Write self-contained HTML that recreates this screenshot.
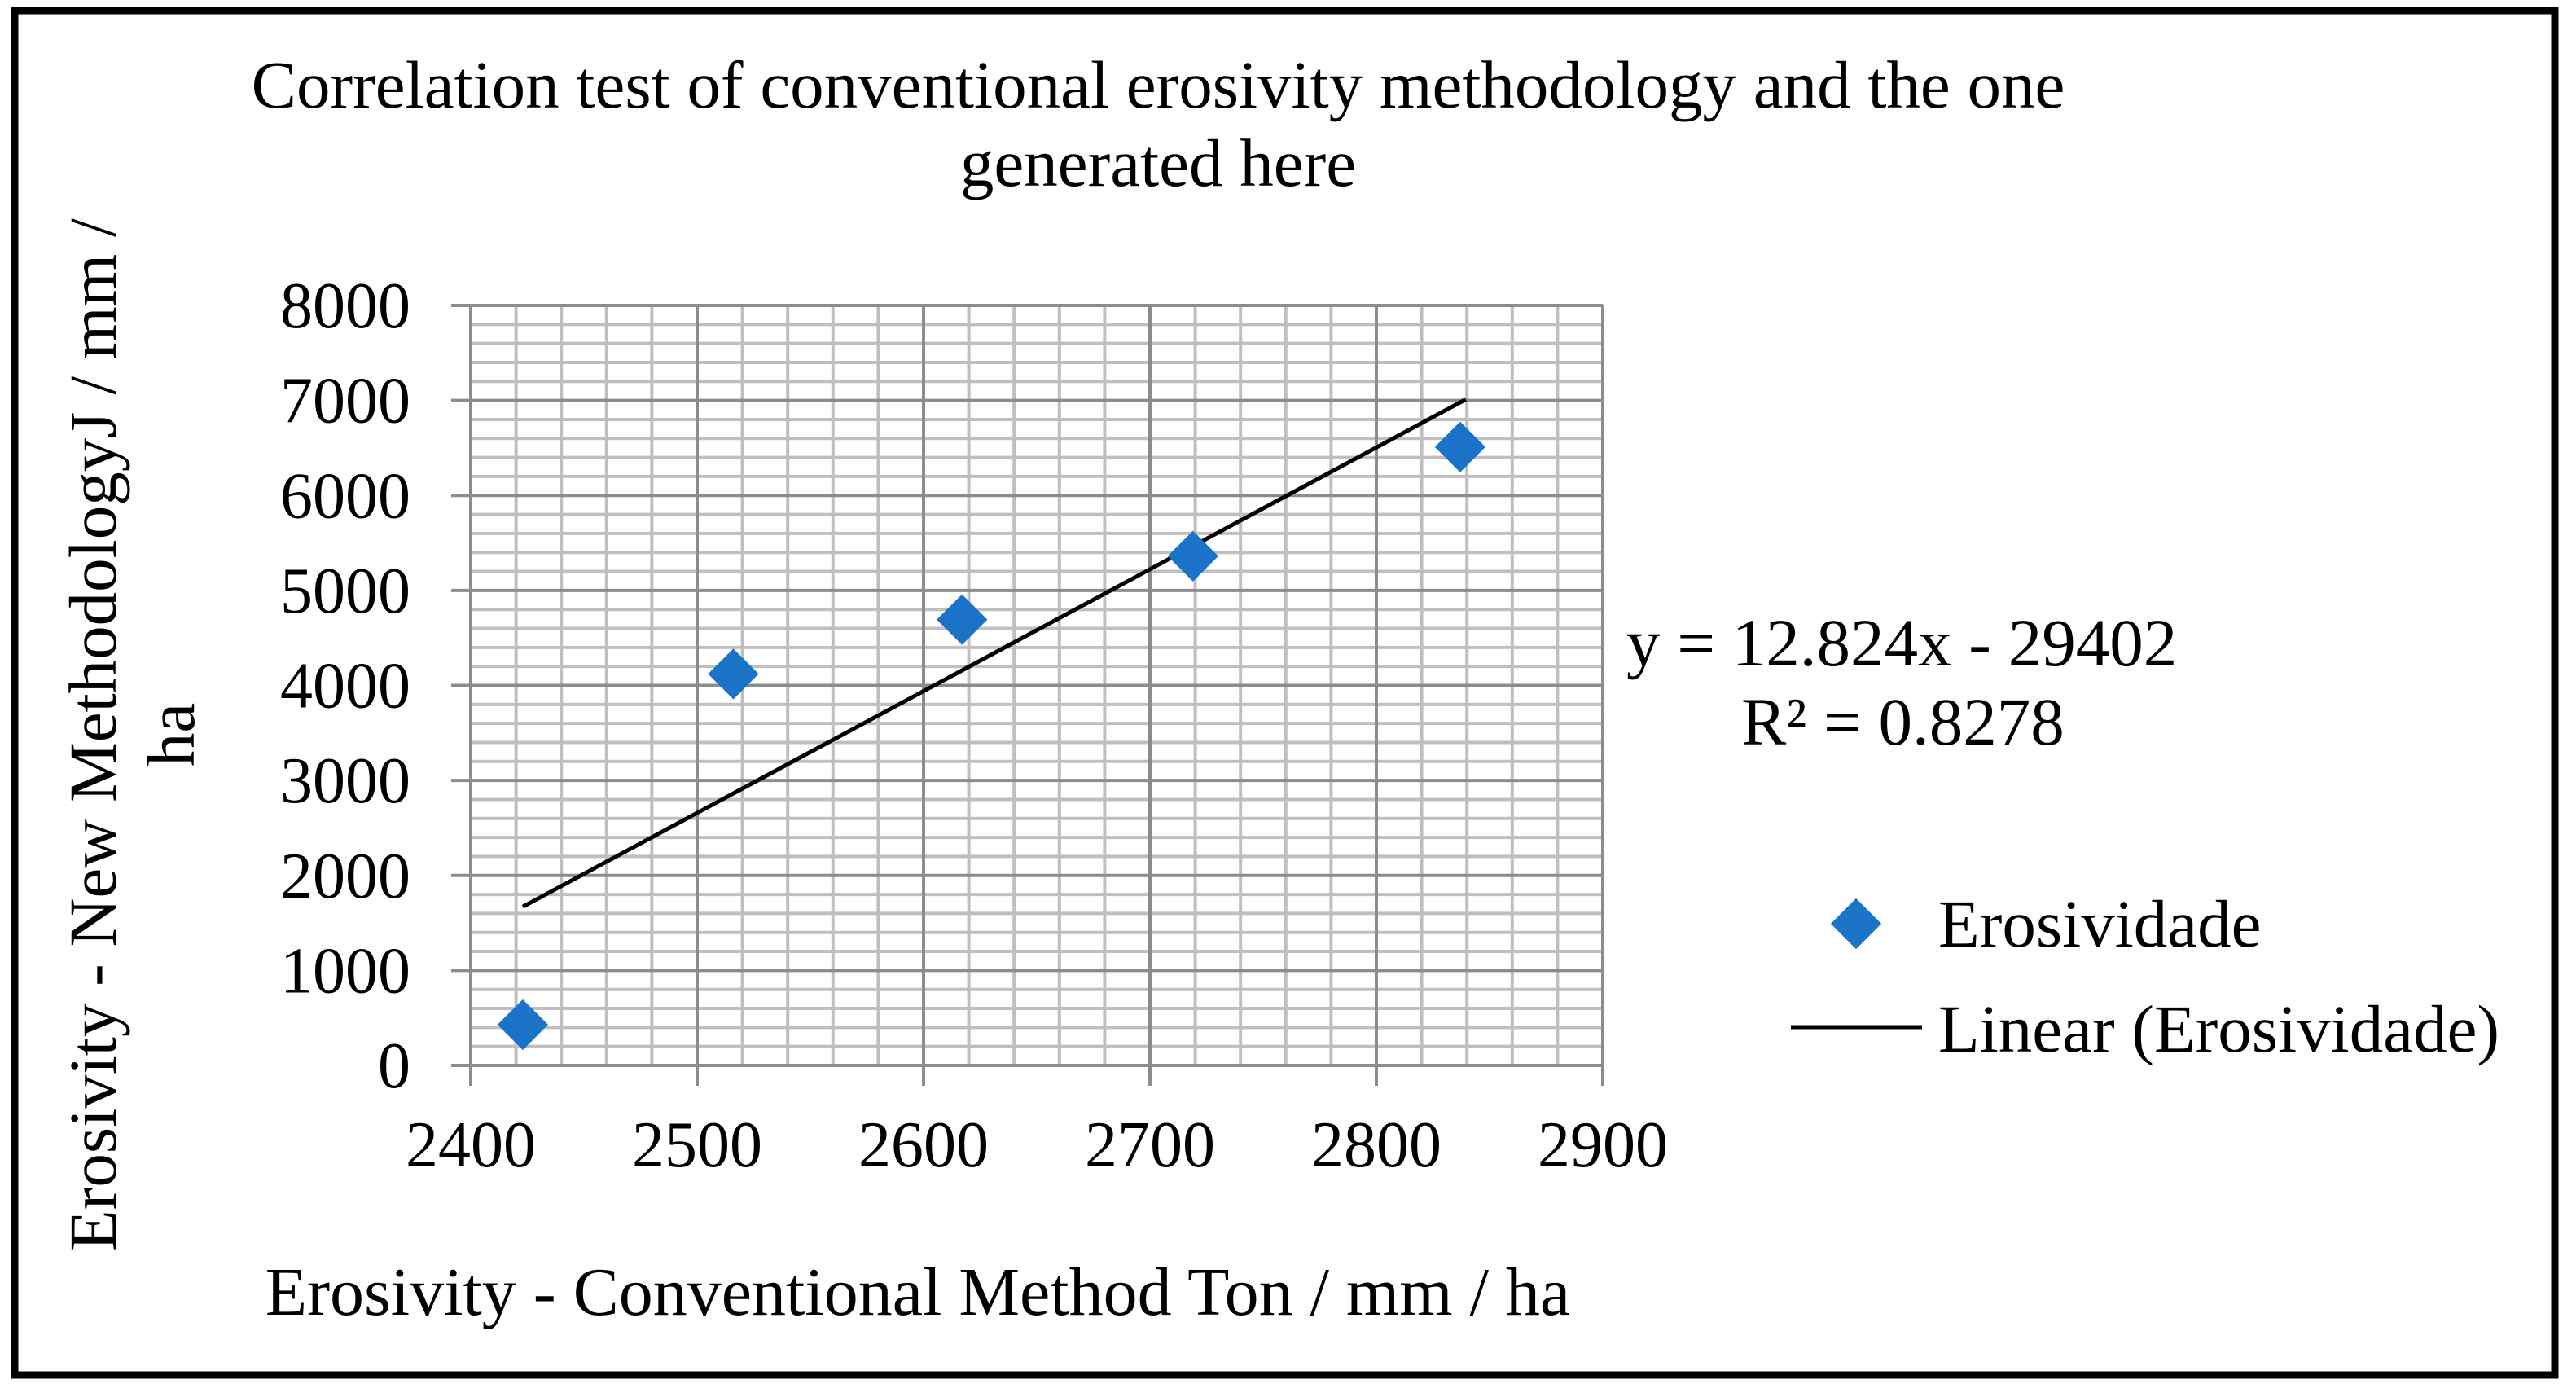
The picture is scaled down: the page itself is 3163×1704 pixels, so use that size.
<!DOCTYPE html>
<html><head><meta charset="utf-8"><style>
html,body{margin:0;padding:0;background:#fff}
svg{display:block}
text{font-family:"Liberation Serif",serif;fill:#000}
</style></head><body>
<svg id="chart" width="3163" height="1704" viewBox="0 0 3163 1704">
<rect x="18" y="13" width="3119" height="1675" fill="#fff" stroke="#000" stroke-width="9"/>
<g id="grid"></g>
<g id="ticks"></g>
<g id="marks"></g>
<text x="1422" y="132" font-size="83" text-anchor="middle">Correlation test of conventional erosivity methodology and the one</text>
<text x="1422" y="228" font-size="83" text-anchor="middle">generated here</text>
<text x="1127" y="1614" font-size="84" text-anchor="middle">Erosivity - Conventional Method Ton / mm / ha</text>
<g transform="translate(0,902) rotate(-90)">
<text x="0" y="142" font-size="83" text-anchor="middle">Erosivity - New MethodologyJ / mm /</text>
<text x="0" y="238" font-size="83" text-anchor="middle">ha</text>
</g>
<text x="1997" y="817" font-size="83">y = 12.824x - 29402</text>
<text x="2138" y="914" font-size="83">R² = 0.8278</text>
<g>
<rect x="2257" y="1112" width="44" height="44" fill="#1a73c6" transform="rotate(45 2279 1134)"/>
<text x="2380" y="1162" font-size="83">Erosividade</text>
<line x1="2199" y1="1261" x2="2360" y2="1261" stroke="#000" stroke-width="5"/>
<text x="2380" y="1291" font-size="83">Linear (Erosividade)</text>
</g>
</svg>
<script>
const xTicks=[2400,2500,2600,2700,2800,2900];
const yTicks=[0,1000,2000,3000,4000,5000,6000,7000,8000];
const xValues=[2423,2516,2617,2719,2837];
const yValues=[429,4121,4693,5361,6510];
const slope=12.824, intercept=-29402;
const X0=578,X1=1968,Y0=1308,Y1=375;
const xMin=2400,xMax=2900,yMin=0,yMax=8000;
function sx(v){return X0+(v-xMin)/(xMax-xMin)*(X1-X0);}
function sy(v){return Y0-(v-yMin)/(yMax-yMin)*(Y0-Y1);}
const NS='http://www.w3.org/2000/svg';
function mk(tag,attrs,parent){const e=document.createElementNS(NS,tag);for(const k in attrs)e.setAttribute(k,attrs[k]);parent.appendChild(e);return e;}
const grid=document.getElementById('grid'),ticks=document.getElementById('ticks'),marks=document.getElementById('marks');
for(let v=xMin;v<=xMax;v+=20){if((v-xMin)%100===0)continue;
const l=mk('line',{x1:sx(v),y1:Y1,x2:sx(v),y2:Y0,stroke:'#bfbfbf','stroke-width':4},grid);

}
for(let v=yMin;v<=yMax;v+=200){if(v%1000===0)continue;
const l=mk('line',{x1:X0,y1:sy(v),x2:X1,y2:sy(v),stroke:'#bfbfbf','stroke-width':4},grid);

}
xTicks.forEach(v=>{const l=mk('line',{x1:sx(v),y1:Y1,x2:sx(v),y2:Y0+25,stroke:'#8c8c8c','stroke-width':4},grid);


const t=mk('text',{x:sx(v),y:1432,'font-size':80,'text-anchor':'middle'},ticks);t.textContent=v;

});
yTicks.forEach(v=>{const l=mk('line',{x1:X0-24,y1:sy(v),x2:X1,y2:sy(v),stroke:'#8c8c8c','stroke-width':4},grid);


const t=mk('text',{x:504,y:sy(v)+27,'font-size':80,'text-anchor':'end'},ticks);t.textContent=v;

});
const xa=Math.min(...xValues),xb=Math.max(...xValues)+2.5;
const tl=mk('line',{x1:sx(xa),y1:sy(slope*xa+intercept),x2:sx(xb),y2:sy(slope*xb+intercept),stroke:'#000','stroke-width':5},marks);


xValues.forEach((xv,i)=>{const cx=sx(xv),cy=sy(yValues[i]);
const p=mk('rect',{x:cx-22,y:cy-22,width:44,height:44,fill:'#1a73c6',transform:`rotate(45 ${cx} ${cy})`},marks);

});
</script>
</body></html>
